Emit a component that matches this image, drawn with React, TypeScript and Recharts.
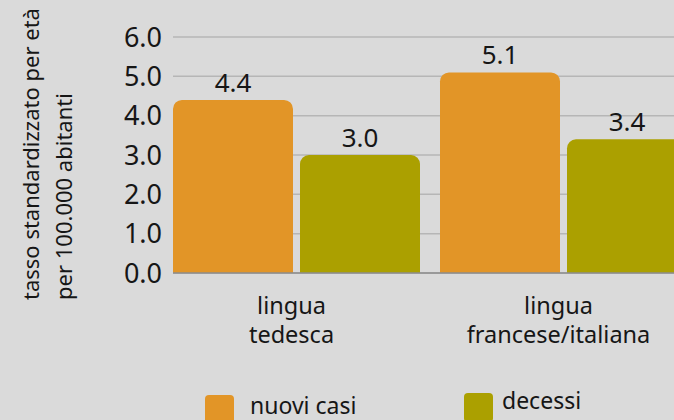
import React from "react";
import {
  BarChart,
  Bar,
  XAxis,
  YAxis,
  CartesianGrid,
  LabelList,
  Legend,
  Label,
} from "recharts";

const categories = ["lingua\ntedesca", "lingua\nfrancese/italiana"];
const nuoviCasi = [4.4, 5.1];
const decessi = [3.0, 3.4];
const yTicks = [0, 1, 2, 3, 4, 5, 6];
const seriesNames = ["nuovi casi", "decessi"];
const seriesColors = ["#e29527", "#aba000"];
const yLabelLines = ["tasso standardizzato per età", "per 100.000 abitanti"];

const data = categories.map((c, i) => ({
  name: c,
  nuovi: nuoviCasi[i],
  decessi: decessi[i],
}));

const FONT = "'Noto Sans', sans-serif";
const TEXT = "#161616";

// legend layout (styles only)
const legendSquare = [
  { left: 205, top: 395 },
  { left: 464, top: 393 },
];
const legendText = [
  { left: 250, top: 389 },
  { left: 502, top: 384 },
];

const XTick = (props: any) => {
  const { x, y, payload } = props;
  const lines = String(payload.value).split("\n");
  return (
    <text x={x - 5} y={y} textAnchor="middle" fontSize={23.5} fill={TEXT} fontFamily={FONT}>
      {lines.map((l, i) => (
        <tspan key={i} x={x - 5} dy={i === 0 ? 41 : 29}>
          {l}
        </tspan>
      ))}
    </text>
  );
};

const YLabel = () => (
  <g fontFamily={FONT} fontSize={22} fill={TEXT}>
    <text transform="translate(39,300) rotate(-90)" textAnchor="start">
      {yLabelLines[0]}
    </text>
    <text transform="translate(72,300) rotate(-90)" textAnchor="start">
      {yLabelLines[1]}
    </text>
  </g>
);

const renderLegend = () => {
  return (
    <div style={{ position: "relative", width: 674, height: 420, fontFamily: FONT }}>
      {seriesNames.map((name, i) => (
        <React.Fragment key={name}>
          <span
            style={{
              position: "absolute",
              left: legendSquare[i].left,
              top: legendSquare[i].top,
              width: 29,
              height: 29,
              borderRadius: 4,
              background: seriesColors[i],
            }}
          />
          <span
            style={{
              position: "absolute",
              left: legendText[i].left,
              top: legendText[i].top,
              fontSize: 23,
              lineHeight: "normal",
              color: TEXT,
              whiteSpace: "nowrap",
            }}
          >
            {name}
          </span>
        </React.Fragment>
      ))}
    </div>
  );
};

export default function App() {
  return (
    <div
      style={{
        position: "absolute",
        top: 0,
        left: 0,
        width: 674,
        height: 420,
        background: "#dadada",
        overflow: "hidden",
      }}
    >
      <BarChart
        width={700}
        height={420}
        data={data}
        margin={{ top: 37, right: 3, left: 0, bottom: 87 }}
        barGap={7}
        barSize={120}
      >
        <CartesianGrid vertical={false} stroke="#b6b6b6" strokeWidth={1.5} />
        <XAxis
          dataKey="name"
          height={60}
          tickLine={false}
          tickSize={0}
          tickMargin={0}
          axisLine={{ stroke: "#8c8c8c", strokeWidth: 1.5 }}
          tick={<XTick />}
          padding={{ left: -10, right: 0 }}
          interval={0}
        />
        <YAxis
          width={173}
          domain={[0, 6]}
          ticks={yTicks}
          interval={0}
          tickFormatter={(v: number) => v.toFixed(1)}
          axisLine={false}
          tickLine={false}
          tickSize={0}
          tickMargin={11}
          tick={{ fontSize: 27, fill: TEXT, fontFamily: FONT }}
        >
          <Label content={<YLabel />} />
        </YAxis>
        <Legend
          layout="vertical"
          verticalAlign="middle"
          align="center"
          wrapperStyle={{ top: 0, left: 0, width: 674, height: 420, pointerEvents: "none" }}
          content={renderLegend}
        />
        <Bar
          dataKey="nuovi"
          name={seriesNames[0]}
          fill={seriesColors[0]}
          radius={[9, 9, 0, 0]}
          isAnimationActive={false}
        >
          <LabelList
            dataKey="nuovi"
            position="top"
            offset={8}
            formatter={(v: any) => Number(v).toFixed(1)}
            style={{ fontSize: 26, fill: TEXT, fontFamily: FONT }}
          />
        </Bar>
        <Bar
          dataKey="decessi"
          name={seriesNames[1]}
          fill={seriesColors[1]}
          radius={[9, 9, 0, 0]}
          isAnimationActive={false}
        >
          <LabelList
            dataKey="decessi"
            position="top"
            offset={8}
            formatter={(v: any) => Number(v).toFixed(1)}
            style={{ fontSize: 26, fill: TEXT, fontFamily: FONT }}
          />
        </Bar>
      </BarChart>
    </div>
  );
}
